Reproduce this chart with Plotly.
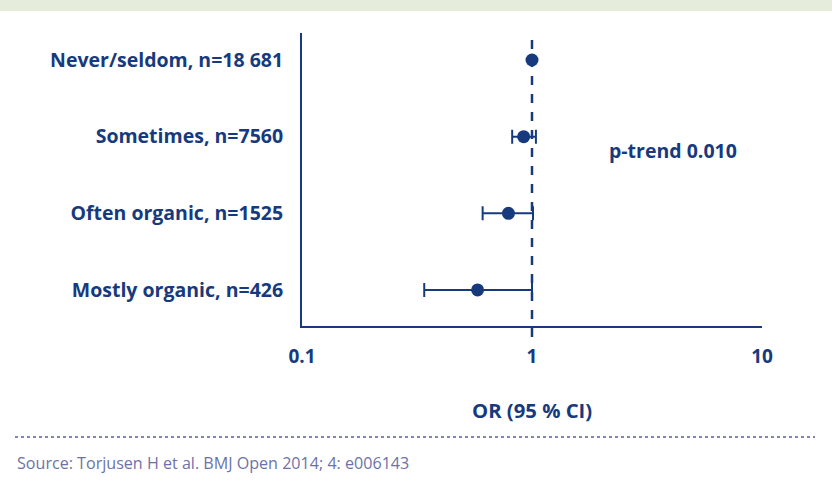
import math
import plotly.graph_objects as go

categories = ["Never/seldom, n=18 681", "Sometimes, n=7560", "Often organic, n=1525", "Mostly organic, n=426"]
odds_ratio = [1.0, 0.92, 0.79, 0.58]
ci_low = [None, 0.82, 0.61, 0.34]
ci_high = [None, 1.04, 1.01, 1.0]
x_tick_vals = [0.1, 1, 10]
x_tick_text = ["0.1", "1", "10"]
p_trend_text = "p-trend 0.010"
x_title = "OR (95 % CI)"
source_text = "Source: Torjusen H et al. BMJ Open 2014; 4: e006143"

NAVY = "#163a7d"
FONT = "Open Sans"

W, H = 832, 487
ML, MR, MT, MB = 302, 70, 33, 161
ph = H - MT - MB
pw = W - ML - MR

def px_to_paper_y(py):
    return (H - MB - py) / ph

def px_to_paper_x(pxv):
    return (pxv - ML) / pw

xmin, xmax = math.log10(0.1), math.log10(10)

fig = go.Figure()

ypos = list(range(len(categories)))
fig.add_trace(go.Scatter(
    x=[odds_ratio[0]], y=[ypos[0]], mode="markers",
    marker=dict(size=13, color=NAVY), showlegend=False, hoverinfo="skip"))

xs = odds_ratio[1:]
plus = [h - o for h, o in zip(ci_high[1:], xs)]
minus = [o - l for l, o in zip(ci_low[1:], xs)]
fig.add_trace(go.Scatter(
    x=xs, y=ypos[1:], mode="markers",
    marker=dict(size=13, color=NAVY),
    error_x=dict(type="data", array=plus, arrayminus=minus, symmetric=False,
                 color=NAVY, thickness=2, width=7),
    showlegend=False, hoverinfo="skip"))

ref_paper = (math.log10(1) - xmin) / (xmax - xmin)
fig.add_shape(type="line", xref="paper", yref="paper",
              x0=ref_paper, x1=ref_paper, y0=px_to_paper_y(337), y1=1,
              line=dict(color=NAVY, width=2.5, dash="dash"), layer="below")

fig.add_shape(type="rect", xref="paper", yref="paper",
              x0=px_to_paper_x(0), x1=px_to_paper_x(W),
              y0=px_to_paper_y(11), y1=px_to_paper_y(0),
              fillcolor="#e6ecdc", line=dict(width=0))

fig.add_shape(type="line", xref="paper", yref="paper",
              x0=px_to_paper_x(15), x1=px_to_paper_x(815),
              y0=px_to_paper_y(437), y1=px_to_paper_y(437),
              line=dict(color="#7f84b8", width=2, dash="dot"))

fig.add_annotation(text=p_trend_text, xref="paper", yref="paper",
                   x=px_to_paper_x(673), y=px_to_paper_y(150),
                   xanchor="center", yanchor="middle",
                   showarrow=False, font=dict(family=FONT, size=19.5, color=NAVY, weight="bold"))

fig.add_annotation(text=x_title, xref="paper", yref="paper",
                   x=ref_paper, y=px_to_paper_y(410),
                   xanchor="center", yanchor="middle",
                   showarrow=False, font=dict(family=FONT, size=20.3, color=NAVY, weight="bold"))

fig.add_annotation(text=source_text, xref="paper", yref="paper",
                   x=px_to_paper_x(15), y=px_to_paper_y(463),
                   xanchor="left", yanchor="middle",
                   showarrow=False, font=dict(family=FONT, size=16.1, color="#6c72a8"))

fig.update_xaxes(type="log", range=[xmin, xmax], tickvals=x_tick_vals, ticktext=x_tick_text,
                 showgrid=False, zeroline=False, showline=True, linecolor=NAVY, linewidth=2,
                 ticks="", ticklabelstandoff=12,
                 tickfont=dict(family=FONT, size=19, color=NAVY, weight="bold"))

fig.update_yaxes(range=[3.47, -0.352], tickvals=ypos, ticktext=categories,
                 showgrid=False, zeroline=False, showline=True, linecolor=NAVY, linewidth=2,
                 ticks="", ticklabelstandoff=13,
                 tickfont=dict(family=FONT, size=19.5, color=NAVY, weight="bold"))

fig.update_layout(width=W, height=H, margin=dict(l=ML, r=MR, t=MT, b=MB),
                  plot_bgcolor="white", paper_bgcolor="white", showlegend=False)

fig.write_html("out.html", config={"displayModeBar": False},
               post_script="document.body.style.margin='0px';")
